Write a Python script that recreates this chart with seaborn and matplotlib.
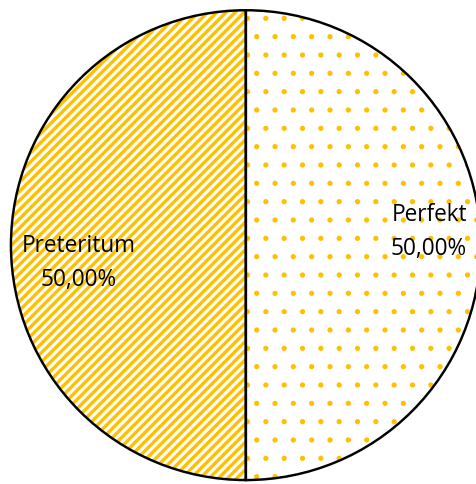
import matplotlib
matplotlib.use("Agg")
import matplotlib.pyplot as plt
import seaborn as sns

# data
categories = ["Perfekt", "Preteritum"]
shares = [50.0, 50.0]
hatches = [".", "////"]
hatch_widths = [1.0, 2.2]

sns.set_theme(style="white")
plt.rcParams["font.family"] = ["Open Sans", "DejaVu Sans"]

DPI = 110
fig = plt.figure(figsize=(476 / DPI, 484 / DPI), dpi=DPI)
ax = fig.add_axes([0.023, 0.008, 0.987, 0.971])

yellow = "#FFC000"
labels = [f"{c}\n{v:.2f}%".replace(".", ",") for c, v in zip(categories, shares)]

# hatched fill (hatch takes the edge colour)
fill, _ = ax.pie(shares, startangle=90, counterclock=False, colors=["white", "white"],
                 wedgeprops=dict(edgecolor=yellow, linewidth=0))
for w, h, lw in zip(fill, hatches, hatch_widths):
    w.set_hatch(h)
    if hasattr(w, "set_hatch_linewidth"):
        w.set_hatch_linewidth(lw)
    else:
        w._hatch_linewidth = lw

# black outline + labels
wedges, texts = ax.pie(
    shares, labels=labels, startangle=90, counterclock=False,
    labeldistance=0.74,
    wedgeprops=dict(facecolor="none", edgecolor="black", linewidth=1.6),
    textprops=dict(fontsize=14.8, color="black", linespacing=1.55),
)
for t in texts:
    t.set_ha("center")
    t.set_va("center")
    t.set_multialignment("center")
texts[0].set_position((0.78, 0.055))
texts[1].set_position((-0.71, -0.077))
ax.set_aspect("equal")
ax.set_xlim(-1, 1)
ax.set_ylim(-1, 1)
ax.axis("off")

fig.savefig("out.png", dpi=DPI)
